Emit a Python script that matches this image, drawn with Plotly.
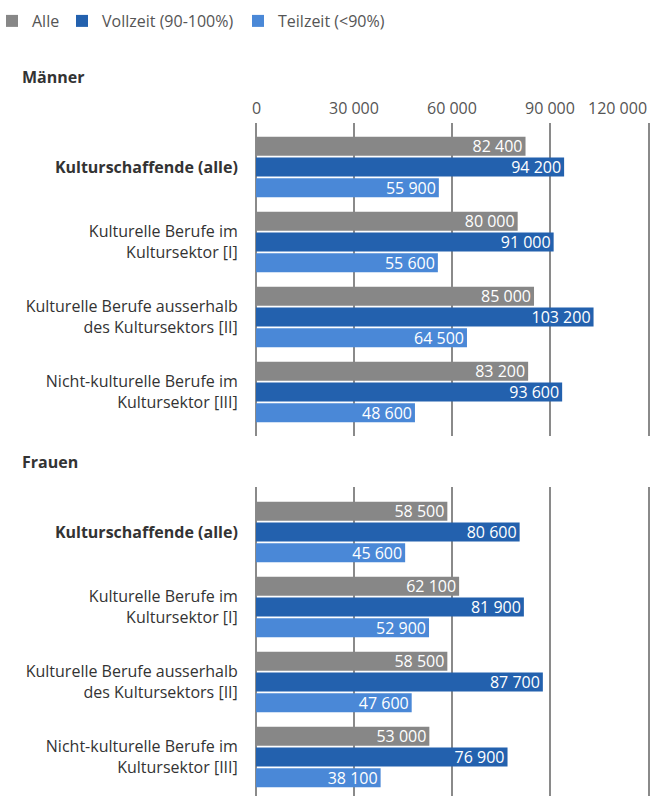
import plotly.graph_objects as go

# Categories (occupational groups)
categories = [
    "<b>Kulturschaffende (alle)</b>",
    "Kulturelle Berufe im<br>Kultursektor [I]",
    "Kulturelle Berufe ausserhalb<br>des Kultursektors [II]",
    "Nicht-kulturelle Berufe im<br>Kultursektor [III]",
]

series_names = ["Alle", "Vollzeit (90-100%)", "Teilzeit (<90%)"]
series_colors = ["#878787", "#2361ae", "#4a88d7"]

# Median annual income, men
maenner_alle = [82400, 80000, 85000, 83200]
maenner_vollzeit = [94200, 91000, 103200, 93600]
maenner_teilzeit = [55900, 55600, 64500, 48600]

# Median annual income, women
frauen_alle = [58500, 62100, 58500, 53000]
frauen_vollzeit = [80600, 81900, 87700, 76900]
frauen_teilzeit = [45600, 52900, 47600, 38100]

tick_values = [0, 30000, 60000, 90000, 120000]

W, H = 650, 796
FONT = "Open Sans"


def fmt(v):
    return f"{v:,}".replace(",", " ")


def py(px):
    return 1 - px / H


fig = go.Figure()

legend_ids = ["legend", "legend2", "legend3"]
panels = [
    ("x", "y", [maenner_alle, maenner_vollzeit, maenner_teilzeit], True),
    ("x2", "y2", [frauen_alle, frauen_vollzeit, frauen_teilzeit], False),
]

for xa, ya, data, show in panels:
    for name, color, vals, lg in zip(series_names, series_colors, data, legend_ids):
        fig.add_trace(go.Bar(
            x=vals, y=categories, orientation="h", name=name,
            marker=dict(color=color, line=dict(width=0)),
            text=[fmt(v) for v in vals], textposition="inside",
            insidetextanchor="end",
            insidetextfont=dict(color="white", size=16, family=FONT),
            xaxis=xa, yaxis=ya, showlegend=show, legend=lg,
            hoverinfo="skip",
        ))

# pixel geometry of the value axis: 0 at x=256, 120 000 at x=648.5
x0_px, x120_px, dom_left = 256, 648.5, 254
per_px = 120000 / (x120_px - x0_px)
x_range = [-(x0_px - dom_left) * per_px, (W - x0_px) * per_px]
x_domain = [dom_left / W, 1.0]

xcommon = dict(
    range=x_range, domain=x_domain, tickvals=tick_values,
    showgrid=True, gridcolor="#8a8a8a", gridwidth=2, zeroline=False,
    showline=False, fixedrange=True, showticklabels=False,
)
ycommon = dict(
    showgrid=False, zeroline=False, showline=False,
    tickfont=dict(size=16, color="#333333", family=FONT),
    ticks="outside", ticklen=12, tickcolor="rgba(0,0,0,0)",
)

legend_style = dict(orientation="h", yanchor="top", xanchor="left",
                    y=1 - 4 / H, font=dict(size=16, color="#555555", family=FONT),
                    itemclick=False, itemdoubleclick=False,
                    bgcolor="rgba(0,0,0,0)")
legend_text_px = [34, 104, 280]

annotations = [
    dict(text="<b>Männer</b>", x=20 / W, y=py(77), xref="paper", yref="paper",
         xanchor="left", yanchor="middle", showarrow=False,
         font=dict(size=16, color="#333333", family=FONT)),
    dict(text="<b>Frauen</b>", x=20 / W, y=py(462), xref="paper", yref="paper",
         xanchor="left", yanchor="middle", showarrow=False,
         font=dict(size=16, color="#333333", family=FONT)),
]
# value-axis labels above the upper panel
for i, v in enumerate(tick_values):
    last = i == len(tick_values) - 1
    annotations.append(dict(
        text=fmt(v), x=v, xref="x", y=py(107.5), yref="paper",
        xanchor="right" if last else "center", yanchor="middle",
        showarrow=False, font=dict(size=16, color="#555555", family=FONT),
    ))

fig.update_layout(
    width=W, height=H,
    margin=dict(l=0, r=0, t=0, b=0, autoexpand=False),
    paper_bgcolor="white", plot_bgcolor="white",
    barmode="group", bargap=0.173, bargroupgap=0.08,
    uniformtext=dict(minsize=16, mode="show"),
    font=dict(family=FONT, color="#333333"),
    xaxis=dict(**xcommon, anchor="y"),
    xaxis2=dict(**xcommon, anchor="y2"),
    yaxis=dict(**ycommon, domain=[py(436), py(123)], anchor="x",
               range=[3.587, -0.587], automargin=False),
    yaxis2=dict(**ycommon, domain=[py(796), py(487)], anchor="x2",
                range=[3.52, -0.6], automargin=False),
    legend=dict(**legend_style, x=(legend_text_px[0] - 42) / W),
    legend2=dict(**legend_style, x=(legend_text_px[1] - 42) / W),
    legend3=dict(**legend_style, x=(legend_text_px[2] - 42) / W),
    annotations=annotations,
)

fig.write_html("out.html")
